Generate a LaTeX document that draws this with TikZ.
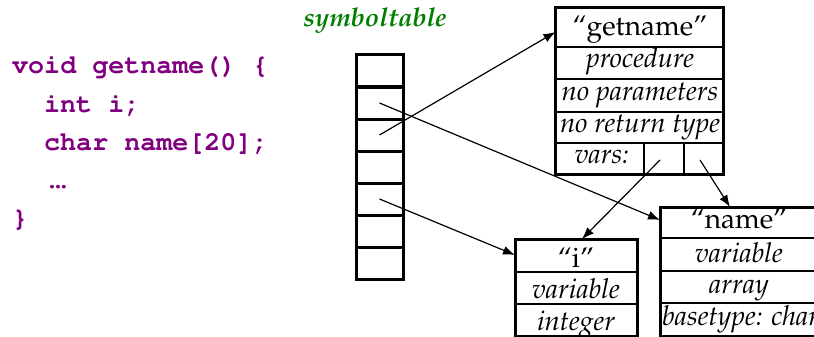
\documentclass[tikz,border=0pt]{standalone}
\usepackage[T1]{fontenc}
\usepackage{mathpazo}
\usepackage{courier}
\usetikzlibrary{arrows.meta}
\definecolor{codepurple}{RGB}{128,0,128}
\definecolor{tablegreen}{RGB}{0,128,0}
\begin{document}
\begin{tikzpicture}[x=1pt,y=-1pt,
  code/.style={anchor=base west, inner sep=0pt, text=codepurple,
    font=\fontsize{26.7}{30}\selectfont\ttfamily\bfseries},
  lbl/.style={anchor=base, inner sep=0pt, font=\fontsize{27.5}{30}\selectfont\itshape},
  ttl/.style={anchor=base, inner sep=0pt, font=\fontsize{28}{30}\selectfont},
  heading/.style={anchor=base, inner sep=0pt, text=tablegreen,
    font=\fontsize{26}{30}\selectfont\itshape\bfseries},
  cell/.style={draw, line width=3pt, minimum width=47pt, minimum height=32pt, inner sep=0pt},
  border/.style={draw, line width=3pt},
  rule/.style={line width=1.2pt},
  ptr/.style={line width=1.2pt, -{Latex[length=12pt,width=9pt]}}
]
\useasboundingbox (0,0) rectangle (814,337);
\clip (0,0) rectangle (814,337);

% code
\node[code] (l1) at (12,74) {void getname() \{};
\node[code] (l2) at (44,112) {int i;};
\node[code] (l3) at (44,150) {char name[20];};
\node[code] (l4) at (44,188) {.\kern-0.38em.\kern-0.38em.};
\node[code] (l5) at (12,226) {\}};

% symbol table
\node[heading] (st) at (375,27) {symboltable};
\foreach \i in {1,...,7}{
  \node[cell] (c\i) at (379.5,{39+32*\i}) {};
}

% getname box
\draw[rule] (555.5,47) -- (723,47) (555.5,79) -- (723,79)
  (555.5,112) -- (723,112) (555.5,143) -- (723,143)
  (644,143) -- (644,174) (684,143) -- (684,174);
\draw[border] (555.5,8) rectangle (723,174);
\node[ttl] (gname) at (640,36) {``getname''};
\node[lbl] (gproc) at (640,68) {procedure};
\node[lbl] (gpar) at (640,100) {no parameters};
\node[lbl] (gret) at (640,132) {no return type};
\node[lbl] (gvars) at (602,163) {vars:};
\coordinate (v1) at (660,160);
\coordinate (v2) at (700,160);
\coordinate (gin) at (555.5,32);

% i box
\draw[rule] (515,272) -- (637,272) (515,304) -- (637,304);
\draw[border] (515,239) rectangle (637,336);
\node[ttl] (iname) at (576,267) {``i''};
\node[lbl] (ivar) at (576,298) {variable};
\node[lbl] (itype) at (576,330) {integer};
\coordinate (iin) at (515,255);
\coordinate (itop) at (582,239);

% name box
\draw[rule] (660,238) -- (830,238) (660,271) -- (830,271) (660,303) -- (830,303);
\draw[border] (660,207) rectangle (830,336);
\node[ttl] (nname) at (739,228) {``name''};
\node[lbl] (nvar) at (739,262) {variable};
\node[lbl] (narr) at (739,293) {array};
\node[lbl, anchor=base west] (nbase) at (662,325) {basetype: char};
\coordinate (nin) at (660,220);
\coordinate (ntop) at (730,207);

% pointers
\draw[ptr] (c3.center) -- (gin);
\draw[ptr] (c2.center) -- (nin);
\draw[ptr] (c5.center) -- (iin);
\draw[ptr] (v1) -- (itop);
\draw[ptr] (v2) -- (ntop);
\end{tikzpicture}
\end{document}
